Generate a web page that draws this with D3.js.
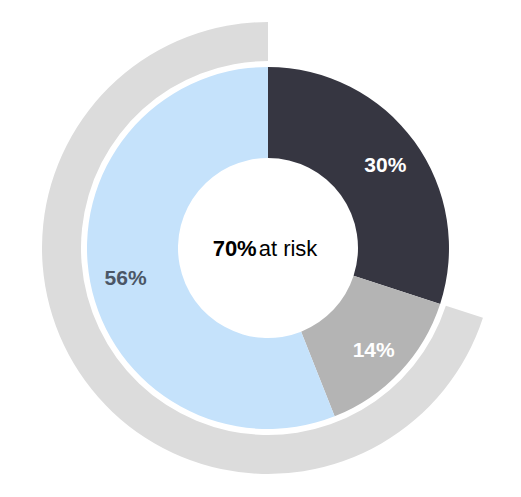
<!DOCTYPE html>
<html>
<head>
<meta charset="utf-8">
<script src="https://cdn.jsdelivr.net/npm/d3@7"></script>
<style>
  html, body { margin:0; padding:0; background:#fff; }
  text { font-family: Arial, "Liberation Sans", sans-serif; }
</style>
</head>
<body>
<svg id="chart" width="521" height="497"></svg>
<script>
// slice data, clockwise from 12 o'clock
var labels = ['30%', '14%', '56%']
  , values = [30, 14, 56]
  , colors = ['#363641', '#b4b4b4', '#c5e2fb']
  , labelColors = ['#ffffff', '#ffffff', '#4b5666']
  , atRisk = 70 // outer ring share, ends at 12 o'clock
  , centerBold = '70%'
  , centerText = 'at risk'

var cx = 268, cy = 248
  , rInner = 90, rOuter = 181
  , ringInner = 187, ringOuter = 226
  , labelR = 145

var svg = d3.select('#chart')
var g = svg.append('g').attr('transform', 'translate(' + cx + ',' + cy + ')')

var total = d3.sum(values)
var angle = d3.scaleLinear().domain([0, total]).range([0, 2 * Math.PI])

// outer ring showing the at-risk share
g.append('path')
  .attr('d', d3.arc()({
    innerRadius: ringInner,
    outerRadius: ringOuter,
    startAngle: angle(total - atRisk),
    endAngle: angle(total)
  }))
  .attr('fill', '#dcdcdc')

var pie = d3.pie().sort(null).value(function(d) { return d })
var arcs = pie(values)
var arc = d3.arc().innerRadius(rInner).outerRadius(rOuter)
var labelArc = d3.arc().innerRadius(labelR).outerRadius(labelR)

g.selectAll('path.slice')
    .data(arcs)
  .enter().append('path')
    .attr('class', 'slice')
    .attr('d', arc)
    .attr('fill', function(d, i) { return colors[i] })

g.selectAll('text.lbl')
    .data(arcs)
  .enter().append('text')
    .attr('class', 'lbl')
    .attr('transform', function(d) { return 'translate(' + labelArc.centroid(d) + ')' })
    .attr('text-anchor', 'middle')
    .attr('dy', '0.45em')
    .attr('font-size', 21)
    .attr('font-weight', 'bold')
    .attr('fill', function(d, i) { return labelColors[i] })
    .text(function(d, i) { return labels[i] })

var ct = g.append('text')
  .attr('text-anchor', 'middle')
  .attr('x', -3)
  .attr('y', 8)
  .attr('font-size', 22)
  .attr('fill', '#000')
ct.append('tspan').attr('font-weight', 'bold').text(centerBold)
ct.append('tspan').attr('dx', 2).text(centerText)
</script>
</body>
</html>
